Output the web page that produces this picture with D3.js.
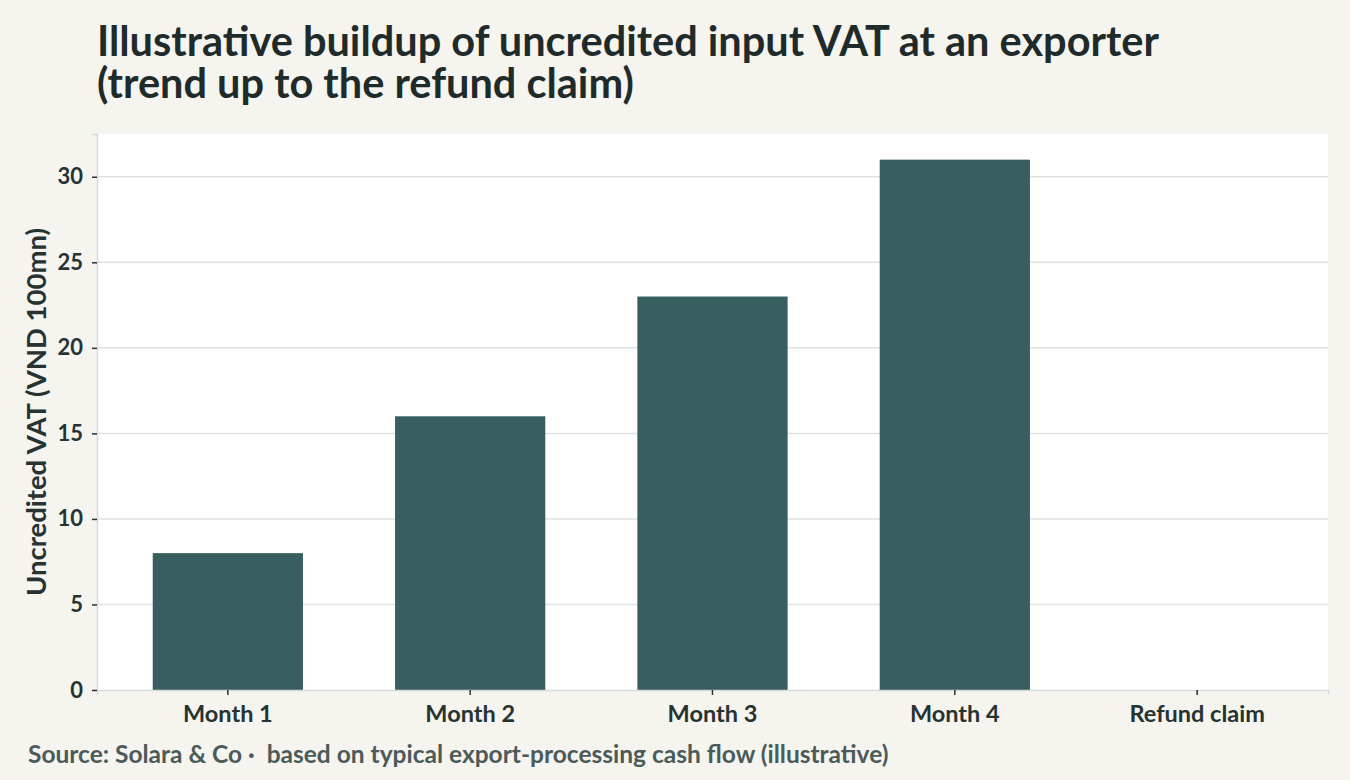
<!DOCTYPE html>
<html>
<head>
<meta charset="utf-8">
<script src="https://cdn.jsdelivr.net/npm/d3@7"></script>
<style>
  body { margin: 0; background: #f5f4ef; }
  svg text { font-family: "Source Sans Pro", Lato, sans-serif; font-weight: 700; }
</style>
</head>
<body>
<div class="chart"></div>
<script>
const CATEGORIES = ["Month 1", "Month 2", "Month 3", "Month 4", "Refund claim"];
const VALUES = [8, 16, 23, 31, 0];
const Y_TICKS = [0, 5, 10, 15, 20, 25, 30];

const W = 1350, H = 780;
const margin = {top: 134, right: 22, bottom: 90, left: 97};
const width = W - margin.left - margin.right,
    height = H - margin.top - margin.bottom;

const svg = d3.select(".chart")
  .append("svg")
  .attr("width", W)
  .attr("height", H);

svg.append("rect")
  .attr("width", W).attr("height", H)
  .attr("fill", "#f5f4ef");

// title, two lines
const title = svg.append("text")
  .attr("x", margin.left)
  .attr("y", 56)
  .attr("fill", "#1f2b2a")
  .style("font-size", "41.5px");
title.append("tspan").attr("x", margin.left).attr("dy", 0)
  .text("Illustrative buildup of uncredited input VAT at an exporter");
title.append("tspan").attr("x", margin.left).attr("dy", 42)
  .text("(trend up to the refund claim)");

const g = svg.append("g")
  .attr("transform", "translate(" + margin.left + "," + margin.top + ")");

g.append("rect")
  .attr("width", width).attr("height", height)
  .attr("fill", "#ffffff");

const x = d3.scaleBand()
  .domain(CATEGORIES)
  .range([0, width])
  .paddingInner(0.38)
  .paddingOuter(0.23);

const y = d3.scaleLinear()
  .domain([0, 32.5])
  .range([height, 0]);

// gridlines
g.selectAll(".grid")
  .data(Y_TICKS.filter(d => d > 0))
  .enter()
  .append("line")
  .attr("class", "grid")
  .attr("x1", 0).attr("x2", width)
  .attr("y1", d => y(d)).attr("y2", d => y(d))
  .attr("stroke", "#dde3e2")
  .attr("stroke-width", 1.5);

g.selectAll(".bar")
  .data(CATEGORIES.map((c, i) => [c, VALUES[i]]))
  .enter()
  .append("rect")
  .attr("class", "bar")
  .attr("x", d => x(d[0]))
  .attr("width", x.bandwidth())
  .attr("y", d => y(d[1]))
  .attr("height", d => height - y(d[1]))
  .attr("fill", "#385e5f");

// axes
const xAxis = g.append("g")
  .attr("transform", "translate(0," + height + ")")
  .call(d3.axisBottom(x).tickSize(5).tickPadding(10));

const yAxis = g.append("g")
  .call(d3.axisLeft(y).tickValues(Y_TICKS).tickSize(5).tickPadding(9));

[xAxis, yAxis].forEach(a => {
  a.select(".domain").attr("stroke", "#d5dcdb").attr("stroke-width", 1.5);
  a.selectAll(".tick line").attr("stroke", "#263331").attr("stroke-width", 1.5);
  a.selectAll(".tick text")
    .attr("fill", "#263331")
    .style("font-size", "22px")
    .style("font-family", "\"Source Sans Pro\", Lato, sans-serif")
    .style("font-weight", 700);
});
xAxis.selectAll(".tick text").style("font-size", "23.5px");

// y label
svg.append("text")
  .attr("transform", "translate(46," + (margin.top + height / 2) + ") rotate(-90)")
  .attr("text-anchor", "middle")
  .attr("fill", "#263331")
  .style("font-size", "27.5px")
  .text("Uncredited VAT (VND 100mn)");

// source
svg.append("text")
  .attr("x", 28)
  .attr("y", 763)
  .attr("fill", "#4b5b59")
  .style("font-size", "24.5px")
  .style("white-space", "pre")
  .text("Source: Solara & Co \u00b7  based on typical export-processing cash flow (illustrative)");
</script>
</body>
</html>
